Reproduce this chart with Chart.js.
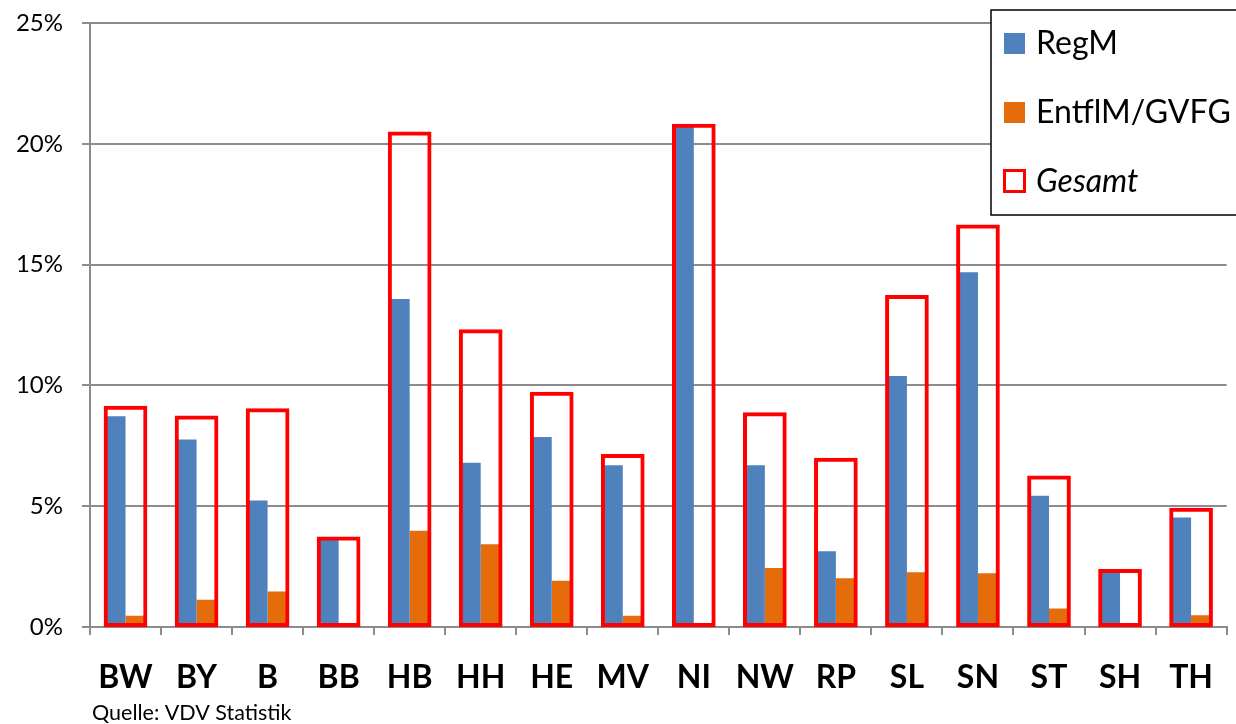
<!DOCTYPE html>
<html lang="de">
<head>
<meta charset="utf-8">
<title>RegM und EntflM/GVFG nach Ländern</title>
<script src="https://cdn.jsdelivr.net/npm/chart.js@4.4.1/dist/chart.umd.min.js"></script>
<style>
  html, body { margin: 0; padding: 0; background: #ffffff; }
  #wrap { position: relative; width: 1236px; height: 724px; }
  canvas { display: block; }
</style>
</head>
<body>
<div id="wrap"><canvas id="chart" width="1236" height="724"></canvas></div>
<script>
// Bundesländer
const laender = ['BW', 'BY', 'B', 'BB', 'HB', 'HH', 'HE', 'MV', 'NI', 'NW', 'RP', 'SL', 'SN', 'ST', 'SH', 'TH'];

// Anteile in Prozent
const regM = [8.72, 7.76, 5.24, 3.61, 13.58, 6.80, 7.86, 6.70, 20.70, 6.70, 3.14, 10.39, 14.68, 5.43, 2.32, 4.53];
const entflM = [0.47, 1.13, 1.47, 0.02, 3.98, 3.42, 1.91, 0.47, 0.14, 2.44, 2.02, 2.27, 2.22, 0.77, 0.02, 0.49];
const gesamt = [9.12, 8.71, 9.01, 3.70, 20.47, 12.28, 9.70, 7.12, 20.79, 8.85, 6.96, 13.70, 16.62, 6.23, 2.36, 4.89];

// Achsenbeschriftung
const yTicks = [0, 5, 10, 15, 20, 25];
const quelle = 'Quelle: VDV Statistik';

const FONT = 'Lato, "Open Sans", "Liberation Sans", sans-serif';
const GRID = '#8c8c8c';
const BLUE = '#4f81bd';
const ORANGE = '#e46c0a';
const RED = '#ff0000';

// Legende als Kasten oben rechts über dem Diagramm
const boxLegend = {
  id: 'boxLegend',
  afterDraw(chart) {
    const ctx = chart.ctx;
    const ds = chart.data.datasets;
    ctx.save();
    ctx.fillStyle = '#ffffff';
    ctx.fillRect(991, 10, 260, 205);
    ctx.strokeStyle = '#000000';
    ctx.lineWidth = 1.5;
    ctx.strokeRect(991, 10, 260, 205);

    const rows = [43, 112, 181];
    ds.forEach((d, i) => {
      const cy = rows[i];
      if (d.legendHollow) {
        ctx.strokeStyle = d.borderColor;
        ctx.lineWidth = 3;
        ctx.strokeRect(1004.5, cy - 10.5, 20, 21);
      } else {
        ctx.fillStyle = d.backgroundColor;
        ctx.fillRect(1004, cy - 10, 21, 21);
      }
      ctx.fillStyle = '#000000';
      ctx.textBaseline = 'middle';
      ctx.textAlign = 'left';
      ctx.font = (d.legendItalic ? 'italic ' : '') + '32px ' + FONT;
      ctx.fillText(d.label, 1036, cy + 1);
    });

    // Quellenangabe
    ctx.font = '21.5px ' + FONT;
    ctx.textBaseline = 'alphabetic';
    ctx.fillStyle = '#000000';
    ctx.fillText(quelle, 92, 720);
    ctx.restore();
  }
};

new Chart(document.getElementById('chart'), {
  type: 'bar',
  data: {
    labels: laender,
    datasets: [
      {
        label: 'RegM',
        data: regM,
        backgroundColor: BLUE,
        borderWidth: 0,
        categoryPercentage: 0.55,
        barPercentage: 1.0,
        order: 1
      },
      {
        label: 'EntflM/GVFG',
        data: entflM,
        backgroundColor: ORANGE,
        borderWidth: 0,
        categoryPercentage: 0.55,
        barPercentage: 1.0,
        order: 1
      },
      {
        label: 'Gesamt',
        data: gesamt,
        backgroundColor: 'rgba(0,0,0,0)',
        borderColor: RED,
        borderWidth: 2,
        borderSkipped: false,
        inflateAmount: 1,
        grouped: false,
        categoryPercentage: 1.0,
        barPercentage: 0.587,
        order: 0,
        legendHollow: true,
        legendItalic: true
      }
    ]
  },
  options: {
    responsive: false,
    animation: false,
    devicePixelRatio: 1,
    layout: { padding: { top: 23, right: 0, bottom: 0, left: 0 } },
    plugins: {
      legend: { display: false },
      tooltip: { enabled: false },
      title: { display: false }
    },
    scales: {
      x: {
        offset: true,
        grid: {
          display: true,
          offset: true,
          drawOnChartArea: false,
          drawTicks: true,
          tickLength: 8,
          color: GRID,
          lineWidth: 2
        },
        border: { display: true, color: GRID, width: 2 },
        ticks: {
          color: '#000000',
          padding: 23,
          font: { family: FONT, size: 32, weight: 'bold' },
          maxRotation: 0,
          autoSkip: false
        },
        afterFit(scale) { scale.height = 97; }
      },
      y: {
        min: 0,
        max: 25,
        afterBuildTicks(scale) {
          scale.ticks = yTicks.map(v => ({ value: v }));
        },
        grid: {
          color: GRID,
          lineWidth: 2,
          drawTicks: true,
          tickLength: 8
        },
        border: { display: true, color: GRID, width: 2 },
        ticks: {
          color: '#000000',
          padding: 19,
          font: { family: FONT, size: 24 },
          callback: v => v + '%'
        },
        afterFit(scale) {
          scale.width = 90;
          scale.paddingTop = 0;
          scale.paddingBottom = 0;
        }
      }
    }
  },
  plugins: [boxLegend]
});
</script>
</body>
</html>
